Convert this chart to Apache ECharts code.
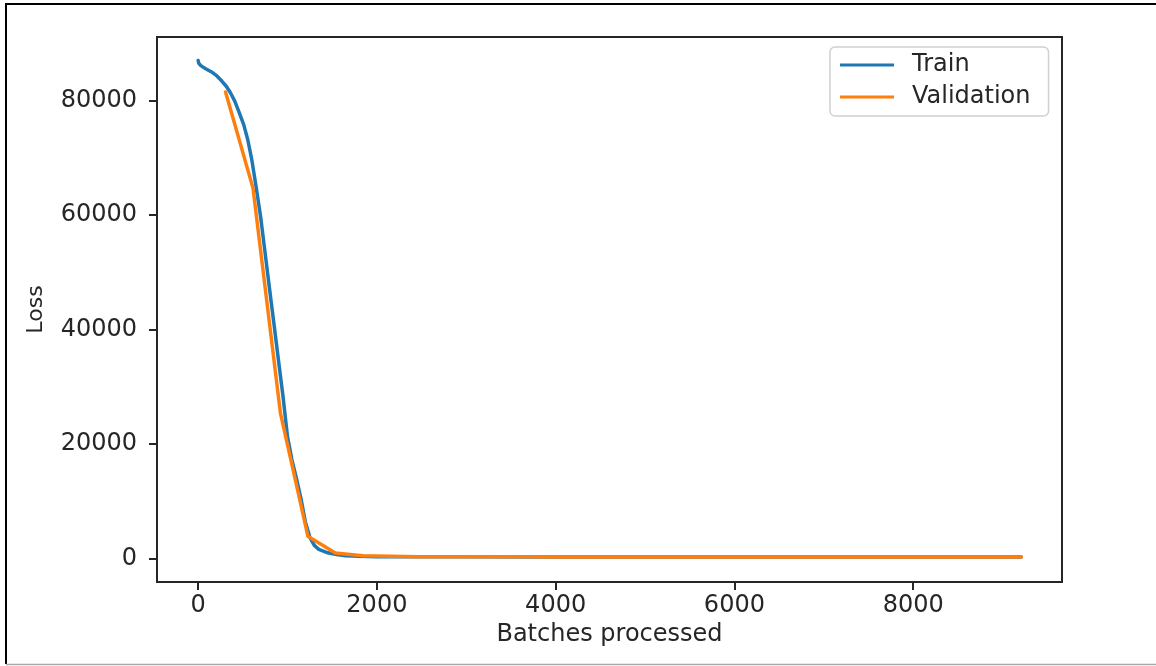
<!DOCTYPE html>
<html>
<head>
<meta charset="utf-8">
<script src="https://cdn.jsdelivr.net/npm/echarts@6/dist/echarts.min.js"></script>
<style>
html,body{margin:0;padding:0;background:#fff;}
#chart{width:1156px;height:666px;}
</style>
</head>
<body>
<div id="chart"></div>
<script>
// Train loss (batches processed, loss)
var trainX = [0, 8, 30, 80, 150, 210, 265, 315, 360, 410, 460, 510, 555, 600, 650, 700, 750, 800, 850, 900, 950, 1000, 1050, 1100, 1150, 1200, 1250, 1300, 1350, 1450, 1550, 1650, 1800, 2000, 2500, 3000, 4000, 5000, 6000, 7000, 8000, 9210];
var trainY = [87000, 86500, 86100, 85600, 85000, 84300, 83400, 82500, 81400, 79900, 77900, 75800, 73200, 69700, 64800, 59600, 53300, 47000, 40800, 34500, 28300, 21300, 17200, 14000, 10500, 6400, 3700, 2300, 1600, 1000, 700, 480, 380, 330, 300, 290, 280, 275, 270, 265, 260, 255];
// Validation loss
var valX = [307, 614, 921, 1228, 1535, 1842, 2149, 2456, 2763, 3070, 3377, 3684, 3991, 4298, 4605, 4912, 5219, 5526, 5833, 6140, 6447, 6754, 7061, 7368, 7675, 7982, 8289, 8596, 8903, 9210];
var valY = [81500, 64700, 25400, 3900, 950, 500, 380, 330, 310, 300, 295, 290, 288, 285, 283, 280, 278, 276, 274, 272, 270, 268, 266, 265, 264, 262, 260, 259, 258, 256];
var xTicks = [0, 2000, 4000, 6000, 8000];
var yTicks = [0, 20000, 40000, 60000, 80000];

function pairs(xs, ys){ return xs.map(function(x,i){ return [x, ys[i]]; }); }

var font = 'DejaVu Sans';
var chart = echarts.init(document.getElementById('chart'), null, {renderer:'canvas'});
chart.setOption({
  animation: false,
  backgroundColor: '#fff',
  grid: {left: 157, top: 37, right: 94, bottom: 84, show: true, borderColor: '#262626', borderWidth: 2, backgroundColor: 'transparent'},
  legend: {
    orient: 'vertical', left: 830, top: 47,
    padding: [6, 18, 7, 10],
    icon: 'path://M0,0 H54 V3 H0 Z',
    itemWidth: 54, itemHeight: 3, itemGap: 8,
    backgroundColor: '#fff', borderColor: '#d0d0d0', borderWidth: 1.5, borderRadius: 5,
    textStyle: {fontFamily: font, fontSize: 24, color: '#262626', padding: [0,0,0,13]},
    data: ['Train', 'Validation']
  },
  xAxis: {
    type: 'value', min: -460, max: 9665,
    name: 'Batches processed', nameLocation: 'middle', nameGap: 38,
    nameTextStyle: {fontFamily: font, fontSize: 24, color: '#262626'},
    axisLine: {show: true, onZero: false, lineStyle: {color: '#262626', width: 2}},
    axisTick: {show: true, length: 8, lineStyle: {color: '#262626', width: 2}, customValues: xTicks},
    axisLabel: {fontFamily: font, fontSize: 24, color: '#262626', margin: 12, customValues: xTicks,
      formatter: function(v){ return String(v); }},
    splitLine: {show: false}
  },
  yAxis: {
    type: 'value', min: -4100, max: 91100,
    name: 'Loss', nameLocation: 'middle', nameGap: 110, nameRotate: 90,
    nameTextStyle: {fontFamily: font, fontSize: 22, color: '#262626'},
    axisLine: {show: true, onZero: false, lineStyle: {color: '#262626', width: 2}},
    axisTick: {show: true, length: 8, lineStyle: {color: '#262626', width: 2}, customValues: yTicks},
    axisLabel: {fontFamily: font, fontSize: 24, color: '#262626', margin: 20, customValues: yTicks,
      formatter: function(v){ return String(v); }},
    splitLine: {show: false}
  },
  series: [
    {name: 'Train', type: 'line', data: pairs(trainX, trainY), symbol: 'none',
     lineStyle: {color: '#1f77b4', width: 3.5, cap: 'round', join: 'round'}, itemStyle: {color: '#1f77b4'}},
    {name: 'Validation', type: 'line', data: pairs(valX, valY), symbol: 'none',
     lineStyle: {color: '#ff7f0e', width: 3.5, cap: 'round', join: 'round'}, itemStyle: {color: '#ff7f0e'}}
  ],
  graphic: [
    {type: 'polyline', silent: true, shape: {points: [[1160, 4], [6, 4], [6, 664]]}, style: {stroke: '#000', lineWidth: 2, fill: null}},
    {type: 'line', silent: true, shape: {x1: 6, y1: 664.5, x2: 1160, y2: 664.5}, style: {stroke: '#aaa', lineWidth: 1.5}}
  ]
});
</script>
</body>
</html>
